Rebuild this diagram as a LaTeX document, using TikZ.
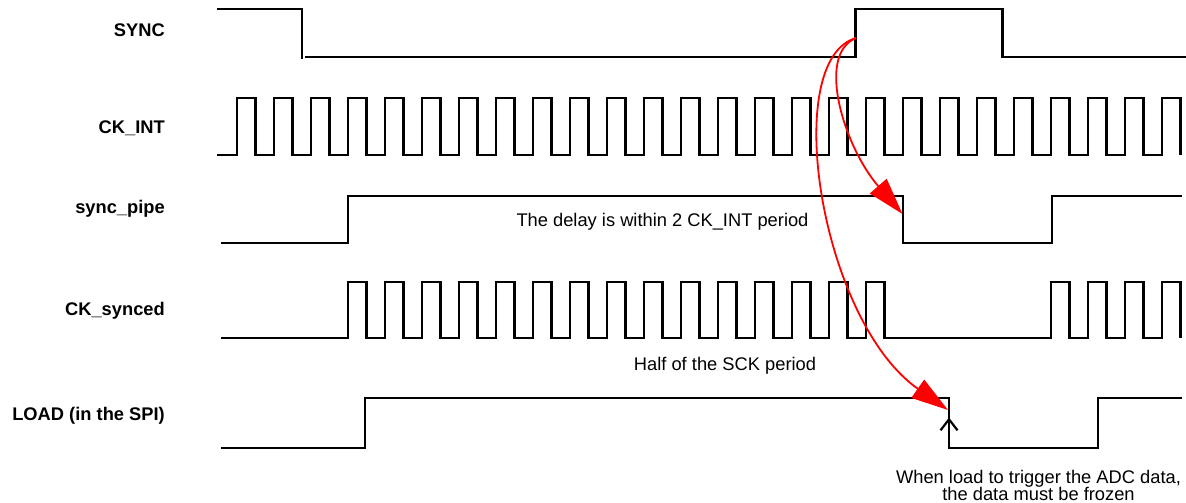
\documentclass[tikz,border=0pt]{standalone}
\usepackage{fontspec}
\setmainfont{Liberation Sans}
\usetikzlibrary{arrows.meta}
\begin{document}
\begin{tikzpicture}[x=1pt,y=-1pt,
  wave/.style={line width=2.6pt,black,line join=miter},
  sig/.style={font=\bfseries\fontsize{18.3}{18}\selectfont,anchor=base east,inner sep=0pt},
  note/.style={font=\fontsize{18.3}{17.4}\selectfont,anchor=base,inner sep=0pt,align=center},
  redarrow/.style={red,line width=1.8pt,-{Triangle[length=37pt,width=22pt]}},
  blackarrow/.style={black,line width=2.2pt,-{Straight Barb[length=11pt,width=17pt]}}]
\useasboundingbox (0,0) rectangle (1186,503);

% signal names
\node[sig] (lsync) at (165,36.7) {SYNC};
\node[sig] (lckint) at (165,133.3) {CK\_INT};
\node[sig] (lpipe) at (165,213.3) {sync\_pipe};
\node[sig] (lcks) at (165,315) {CK\_synced};
\node[sig] (lload) at (165,420) {LOAD (in the SPI)};

% SYNC
\draw[wave] (217,9) -- (302,9) -- (302,59.5);
\draw[wave] (305,57) -- (855.5,57) -- (855.5,9) -- (1002.5,9) -- (1002.5,57) -- (1186,57);

% CK_INT
\draw[wave] (217,155) \foreach \k in {0,...,25} {
  -- ({237+37*\k},155) -- ({237+37*\k},98) -- ({255.5+37*\k},98) -- ({255.5+37*\k},155) };

% sync_pipe
\draw[wave] (221,243) -- (348,243) -- (348,196) -- (903,196) -- (903,243)
  -- (1052,243) -- (1052,196) -- (1182,196);

% CK_synced
\draw[wave] (221,338) \foreach \k in {3,...,17} {
  -- ({237+37*\k},338) -- ({237+37*\k},282) -- ({255.5+37*\k},282) -- ({255.5+37*\k},338) }
  \foreach \k in {22,...,25} {
  -- ({237+37*\k},338) -- ({237+37*\k},282) -- ({255.5+37*\k},282) -- ({255.5+37*\k},338) };

% LOAD
\draw[wave] (221,448) -- (365,448) -- (365,398) -- (949,398) -- (949,448)
  -- (1098,448) -- (1098,398) -- (1182,398);

% annotations
\node[note] (tdelay) at (662.5,226.7) {The delay is within 2 CK\_INT period};
\node[note] (thalf) at (725,370) {Half of the SCK period};
\node[note] (tload) at (1038.5,500.7) {When load to trigger the ADC data,\\the data must be frozen};

% connectors
\coordinate (syncrise) at (856,38);
\coordinate (pipefall) at (902.5,214);
\coordinate (loadfall) at (948,410);
\coordinate (loadbase) at (949,446);
\coordinate (loadtip) at (949,417.5);

\draw[redarrow] (syncrise) .. controls (815,55) and (845,148) .. (pipefall);
\draw[redarrow] (syncrise) .. controls (780,60) and (820,320) .. (loadfall);
\draw[blackarrow] (loadbase) -- (loadtip);
\end{tikzpicture}
\end{document}
